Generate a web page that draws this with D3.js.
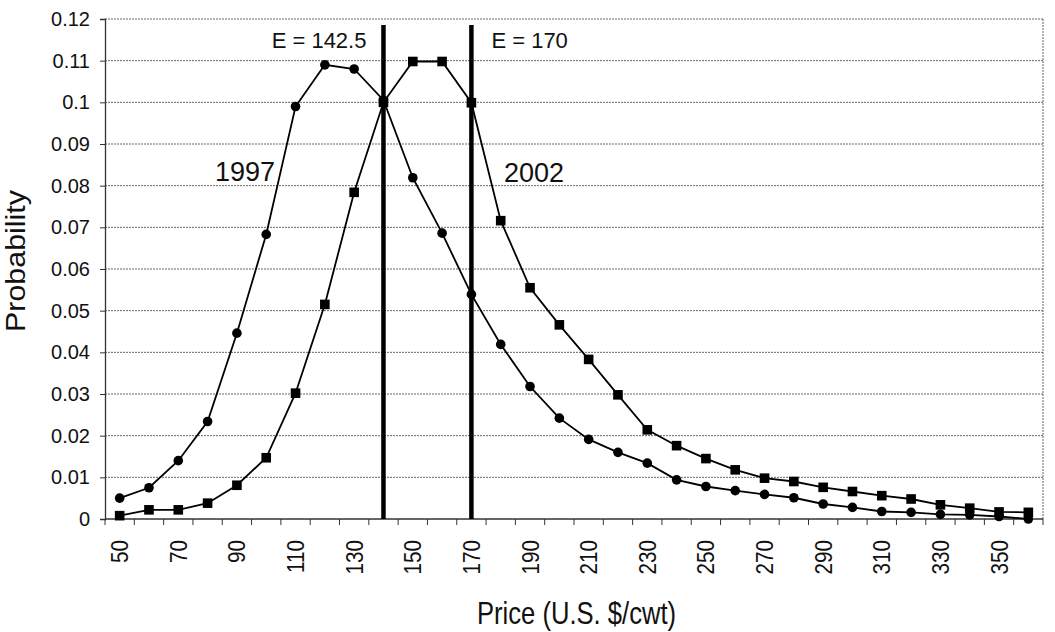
<!DOCTYPE html>
<html>
<head>
<meta charset="utf-8">
<script src="https://cdn.jsdelivr.net/npm/d3@7"></script>
<style>
  html, body { margin: 0; padding: 0; background: #fff; }
  svg { display: block; font-family: "Liberation Sans", Arial, sans-serif; }
</style>
</head>
<body>
<svg id="chart" width="1055" height="632"></svg>
<script>
// ---- data ----
const prices = [50,60,70,80,90,100,110,120,130,140,150,160,170,180,190,200,210,220,230,240,250,260,270,280,290,300,310,320,330,340,350,360];
const labeledPrices = [50,70,90,110,130,150,170,190,210,230,250,270,290,310,330,350];
const prob1997 = [0.0050,0.0075,0.0140,0.0234,0.0446,0.0683,0.0990,0.1090,0.1080,0.1005,0.0819,0.0686,0.0539,0.0419,0.0318,0.0242,0.0191,0.0160,0.0134,0.0094,0.0078,0.0068,0.0059,0.0051,0.0036,0.0028,0.0018,0.0016,0.0011,0.0010,0.0006,0.0000];
const prob2002 = [0.0008,0.0022,0.0022,0.0038,0.0081,0.0147,0.0302,0.0515,0.0784,0.1000,0.1098,0.1098,0.0999,0.0716,0.0555,0.0466,0.0383,0.0298,0.0214,0.0176,0.0145,0.0118,0.0098,0.0090,0.0076,0.0066,0.0056,0.0048,0.0034,0.0026,0.0017,0.0016];
const yTicks = [0,0.01,0.02,0.03,0.04,0.05,0.06,0.07,0.08,0.09,0.1,0.11,0.12];
const yTickLabels = ["0","0.01","0.02","0.03","0.04","0.05","0.06","0.07","0.08","0.09","0.1","0.11","0.12"];
const eLinePrices = [140, 170];
const eLineLabels = ["E = 142.5", "E = 170"];
const seriesNames = ["1997", "2002"];

// ---- layout ----
const svg = d3.select("#chart");
const pL = 105, pR = 1043, pT = 19, pB = 519;

const x = d3.scaleBand().domain(prices).range([pL, pR]).padding(0);
const xc = p => x(p) + x.bandwidth() / 2;
const y = d3.scaleLinear().domain([0, 0.12]).range([pB, pT]);

// gridlines (dotted)
svg.append("g").selectAll("line")
  .data(yTicks.filter(t => t > 0))
  .join("line")
  .attr("x1", pL).attr("x2", pR)
  .attr("y1", d => y(d)).attr("y2", d => y(d))
  .attr("stroke", "#666").attr("stroke-width", 1)
  .attr("stroke-dasharray", "2,1");

// right border
svg.append("line")
  .attr("x1", pR).attr("x2", pR).attr("y1", pT).attr("y2", pB)
  .attr("stroke", "#666").attr("stroke-width", 1).attr("stroke-dasharray", "2,1");

// y axis
const yAxis = d3.axisLeft(y).tickValues(yTicks)
  .tickFormat((d, i) => yTickLabels[i]).tickSize(5).tickPadding(10);
const gy = svg.append("g").attr("transform", `translate(${pL},0)`).call(yAxis);
gy.select(".domain").attr("stroke", "#333").attr("stroke-width", 1.3);
gy.selectAll(".tick line").attr("stroke", "#333");
gy.selectAll("text").attr("font-size", 20).attr("fill", "#111")
  .attr("font-family", "Liberation Sans, Arial, sans-serif");

// x axis (category boundaries as ticks)
const gx = svg.append("g");
gx.append("line").attr("x1", pL).attr("x2", pR).attr("y1", pB).attr("y2", pB)
  .attr("stroke", "#333").attr("stroke-width", 1.3);
const bounds = prices.map(p => x(p)).concat([pR]);
gx.selectAll("line.tk").data(bounds).join("line").attr("class", "tk")
  .attr("x1", d => d).attr("x2", d => d).attr("y1", pB).attr("y2", pB + 6)
  .attr("stroke", "#333").attr("stroke-width", 1);
gx.selectAll("text").data(labeledPrices).join("text")
  .attr("transform", d => `translate(${xc(d) + 8.5},${pB + 21}) rotate(-90) scale(0.9,1)`)
  .attr("text-anchor", "end")
  .attr("font-size", 23).attr("fill", "#111")
  .text(d => d);

// E lines
eLinePrices.forEach((p, i) => {
  svg.append("line")
    .attr("x1", xc(p)).attr("x2", xc(p))
    .attr("y1", pT + 6).attr("y2", pB)
    .attr("stroke", "#000").attr("stroke-width", 4.5);
  svg.append("text")
    .attr("x", i === 0 ? xc(p) - 17 : xc(p) + 20)
    .attr("y", 48)
    .attr("text-anchor", i === 0 ? "end" : "start")
    .attr("font-size", 22).attr("fill", "#111")
    .text(eLineLabels[i]);
});

// series lines
const line = d3.line().x((d, i) => xc(prices[i])).y(d => y(d));
[prob1997, prob2002].forEach(s => {
  svg.append("path").datum(s).attr("d", line)
    .attr("fill", "none").attr("stroke", "#000").attr("stroke-width", 1.8);
});

// markers
svg.append("g").selectAll("circle").data(prob1997).join("circle")
  .attr("cx", (d, i) => xc(prices[i])).attr("cy", d => y(d))
  .attr("r", 4.8).attr("fill", "#000");
svg.append("g").selectAll("rect").data(prob2002).join("rect")
  .attr("x", (d, i) => xc(prices[i]) - 4.8).attr("y", d => y(d) - 4.8)
  .attr("width", 9.6).attr("height", 9.6).attr("fill", "#000");

// series labels
svg.append("text").attr("x", 275).attr("y", 181).attr("text-anchor", "end")
  .attr("font-size", 27).attr("fill", "#111").text(seriesNames[0]);
svg.append("text").attr("x", 504).attr("y", 182).attr("text-anchor", "start")
  .attr("font-size", 27).attr("fill", "#111").text(seriesNames[1]);

// axis titles
svg.append("text").attr("transform", `translate(576.5,624) scale(0.8,1)`)
  .attr("text-anchor", "middle").attr("font-size", 32).attr("fill", "#111")
  .text("Price (U.S. $/cwt)");
svg.append("text").attr("transform", `translate(25,261) rotate(-90)`)
  .attr("text-anchor", "middle").attr("font-size", 27).attr("fill", "#111")
  .attr("textLength", 142).attr("lengthAdjust", "spacingAndGlyphs")
  .text("Probability");
</script>
</body>
</html>
